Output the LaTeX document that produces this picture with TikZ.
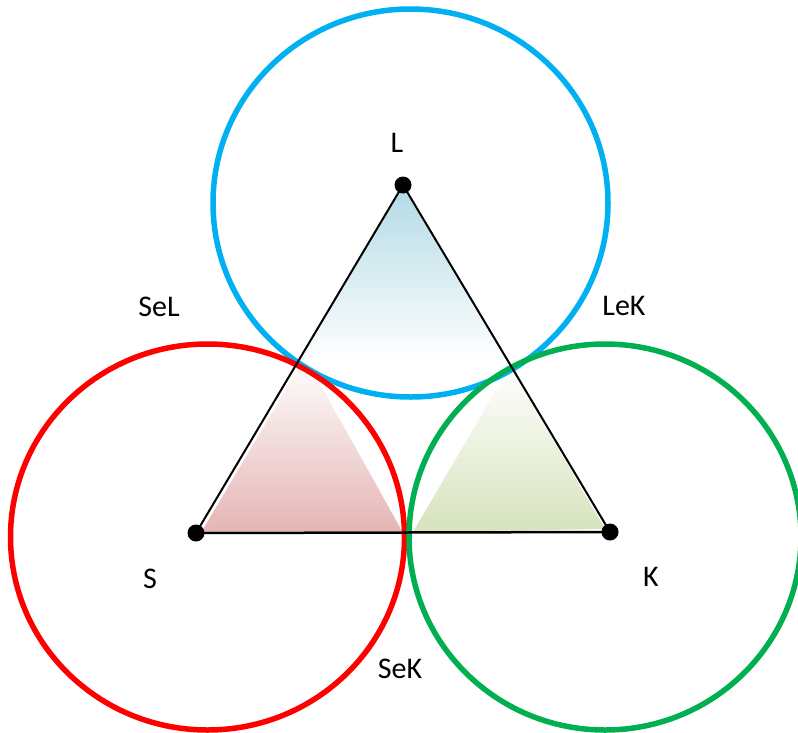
\documentclass[tikz,border=0pt]{standalone}
\usepackage{fontspec}
\setmainfont{Carlito}
\definecolor{blueC}{HTML}{00B0F0}
\definecolor{redC}{HTML}{FF0000}
\definecolor{greenC}{HTML}{00B050}
\definecolor{blueT}{HTML}{B3DAE5}
\definecolor{redT}{HTML}{E4B6B5}
\definecolor{greenT}{HTML}{D6E3BC}
\begin{document}
\begin{tikzpicture}[x=1pt,y=-1pt,
  ring/.style={line width=5.5pt},
  dot/.style={circle,fill=black,inner sep=0pt,minimum size=17pt},
  lbl/.style={font=\fontsize{30}{36}\selectfont, inner sep=0pt, text=black},
  edgeline/.style={line width=2pt, black}]
\useasboundingbox (0,0) rectangle (798,732);
% gradient fills
\shade[top color=blueT, bottom color=white] (403,187) -- (298,362) -- (508,362) -- cycle;
\shade[top color=white, bottom color=redT] (202,531) -- (305,357) -- (402,531) -- cycle;
\shade[top color=white, bottom color=greenT] (413,532) -- (510,366) -- (605,529) -- cycle;
% circles
\draw[ring, blueC] (410.5,203) ellipse [x radius=197.5, y radius=194];
\draw[ring, redC] (207.5,537) ellipse [x radius=197, y radius=193];
\draw[ring, greenC] (605,537) ellipse [x radius=196, y radius=193];
% dots
\node[dot] (L) at (403,185) {};
\node[dot] (S) at (196,533) {};
\node[dot] (K) at (610,532) {};
% triangle
\draw[edgeline] (L.center) -- (S.center);
\draw[edgeline] (L.center) -- (K.center);
\draw[edgeline, line width=2.5pt] (S.center) -- (K.center);
% labels
\node[lbl] (tL) at (397,142.5) {L};
\node[lbl] (tSeL) at (159,307) {SeL};
\node[lbl] (tLeK) at (624,306) {LeK};
\node[lbl] (tS) at (150,579) {S};
\node[lbl] (tK) at (651,577) {K};
\node[lbl] (tSeK) at (400,669) {SeK};
\end{tikzpicture}
\end{document}
